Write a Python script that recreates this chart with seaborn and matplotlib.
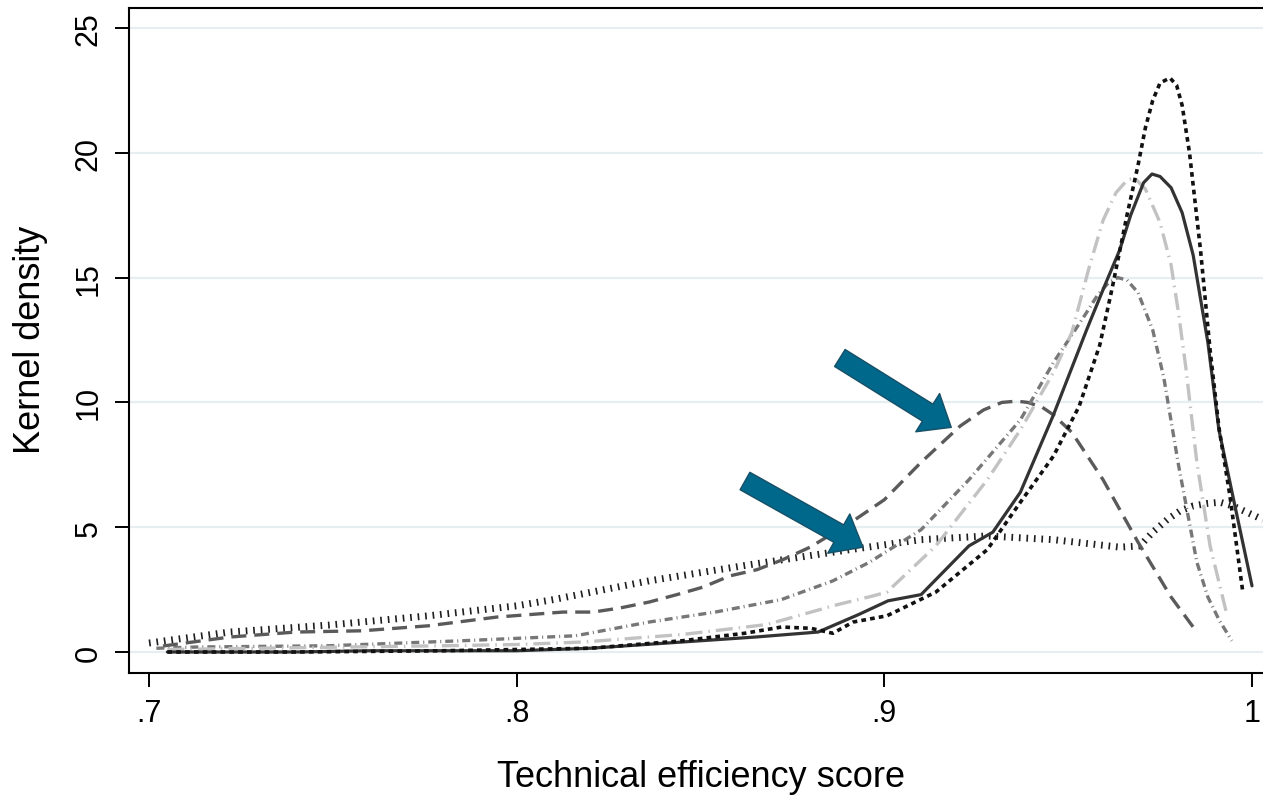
import seaborn as sns
import matplotlib.pyplot as plt

# values (x = efficiency score, y = density)
solid_x = [0.705, 0.72, 0.74, 0.76, 0.78, 0.80, 0.82, 0.845, 0.865, 0.882, 0.893, 0.901,
           0.910, 0.916, 0.923, 0.9295, 0.937, 0.946, 0.955, 0.960, 0.964, 0.967, 0.9705,
           0.9728, 0.975, 0.978, 0.981, 0.984, 0.988, 0.991, 0.995, 1.0]
solid_y = [0.0, 0.0, 0.0, 0.05, 0.05, 0.05, 0.15, 0.4, 0.6, 0.8, 1.5, 2.05,
           2.3, 3.2, 4.25, 4.8, 6.4, 9.5, 12.9, 14.7, 16.1, 17.5, 18.8,
           19.15, 19.05, 18.6, 17.6, 15.9, 12.4, 8.9, 6.1, 2.65]

dot_x = [0.705, 0.74, 0.78, 0.82, 0.845, 0.862, 0.872, 0.880, 0.886, 0.8915, 0.9007,
         0.914, 0.928, 0.937, 0.946, 0.953, 0.9586, 0.962, 0.966, 0.969, 0.971, 0.973,
         0.975, 0.9777, 0.9795, 0.981, 0.983, 0.986, 0.9886, 0.991, 0.994, 0.9975]
dot_y = [0.0, 0.0, 0.05, 0.15, 0.45, 0.75, 1.0, 0.95, 0.75, 1.2, 1.45,
         2.4, 4.1, 6.0, 7.85, 9.85, 12.3, 14.6, 17.5, 19.5, 21.0, 22.1,
         22.8, 23.0, 22.7, 21.9, 20.0, 16.1, 12.1, 9.0, 6.25, 2.4]

light_x = [0.705, 0.73, 0.754, 0.78, 0.80, 0.818, 0.845, 0.868, 0.8825, 0.886, 0.897,
           0.9007, 0.914, 0.928, 0.937, 0.946, 0.951, 0.9555, 0.9595, 0.963, 0.966,
           0.968, 0.971, 0.975, 0.978, 0.980, 0.982, 0.985, 0.9886, 0.993]
light_y = [0.1, 0.15, 0.2, 0.25, 0.3, 0.4, 0.7, 1.1, 1.7, 1.85, 2.25,
           2.4, 4.25, 6.9, 8.9, 11.2, 12.8, 15.3, 17.3, 18.4, 18.9,
           19.0, 18.55, 17.2, 15.5, 13.6, 11.4, 7.6, 4.25, 1.6]

mid_x = [0.702, 0.713, 0.749, 0.785, 0.816, 0.836, 0.854, 0.872, 0.886, 0.896, 0.910,
         0.923, 0.937, 0.946, 0.951, 0.955, 0.958, 0.961, 0.9635, 0.966, 0.969, 0.973,
         0.976, 0.980, 0.985, 0.988, 0.991, 0.9945]
mid_y = [0.15, 0.2, 0.25, 0.45, 0.65, 1.2, 1.6, 2.1, 2.85, 3.6, 4.9,
         6.9, 9.3, 11.6, 12.7, 13.6, 14.3, 14.8, 15.0, 14.9, 14.4, 12.9,
         11.0, 7.5, 3.6, 2.2, 1.3, 0.45]

dash_x = [0.7038, 0.722, 0.740, 0.758, 0.776, 0.7946, 0.8126, 0.8208, 0.828, 0.836,
          0.8436, 0.8507, 0.858, 0.8654, 0.8724, 0.8798, 0.891, 0.900, 0.910, 0.9206,
          0.927, 0.932, 0.936, 0.939, 0.943, 0.946, 0.951, 0.9595, 0.969, 0.978, 0.984]
dash_y = [0.24, 0.6, 0.8, 0.85, 1.05, 1.4, 1.6, 1.6, 1.76, 2.0,
          2.3, 2.6, 3.05, 3.3, 3.7, 4.2, 5.2, 6.1, 7.6, 9.05,
          9.7, 10.0, 10.05, 10.0, 9.8, 9.5, 8.8, 6.9, 4.4, 2.2, 1.0]

tick_x = [0.700, 0.722, 0.749, 0.776, 0.800, 0.810, 0.836, 0.8635, 0.8906, 0.910,
          0.928, 0.946, 0.964, 0.9695, 0.973, 0.9769, 0.9804, 0.984, 0.9877, 0.9913,
          0.9948, 0.9986, 1.003]
tick_y = [0.36, 0.8, 1.08, 1.45, 1.85, 2.1, 2.85, 3.5, 4.1, 4.5,
          4.65, 4.5, 4.2, 4.25, 4.8, 5.3, 5.65, 5.85, 5.95, 6.0,
          5.85, 5.6, 5.3]

# arrows: (tail, tip)
arrows = [((0.8879, 11.78), (0.9182, 9.0)),
          ((0.8621, 6.85), (0.8942, 4.2))]

x_ticks = [0.7, 0.8, 0.9, 1.0]
x_labels = ['.7', '.8', '.9', '1']
y_ticks = [0, 5, 10, 15, 20, 25]

sns.set_style('white', {'text.color': 'black', 'axes.labelcolor': 'black',
                        'xtick.color': 'black', 'ytick.color': 'black'})
plt.rcParams['font.family'] = ['Liberation Sans', 'DejaVu Sans']

fig = plt.figure(figsize=(12.63, 8.03), dpi=100)
ax = fig.add_axes([129 / 1263, 1 - 674 / 803, 1 - 129 / 1263, 665 / 803])

# (x, y, color, linewidth, dashes)
series = [
    (tick_x, tick_y, '#1e1e1e', 5.0, (0.24, 0.84)),
    (dash_x, dash_y, '#5a5a5a', 2.4, (4.5, 2.4)),
    (mid_x, mid_y, '#777777', 2.4, (2.4, 1.2, 0.3, 1.2)),
    (light_x, light_y, '#c2c2c2', 2.4, (5.1, 1.8, 0.45, 1.8)),
    (solid_x, solid_y, '#333333', 2.3, None),
    (dot_x, dot_y, '#111111', 2.6, (1.3, 1.15)),
]
for xs, ys, col, lw, dsh in series:
    sns.lineplot(x=xs, y=ys, ax=ax, color=col, linewidth=lw, errorbar=None, sort=False)
    if dsh is not None:
        ax.lines[-1].set_dashes(dsh)

for tail, tip in arrows:
    ax.annotate('', xy=tip, xytext=tail,
                arrowprops=dict(arrowstyle='simple,head_length=1.0,head_width=1.62,tail_width=0.72',
                                mutation_scale=20, fc='#00688b', ec='#174f66', lw=1,
                                shrinkA=0, shrinkB=0))

ax.set_xlim(0.7 - 20 / 3677, 1.0 + 11 / 3677)
ax.set_ylim(-21 / 24.96, 25 + 20 / 24.96)
ax.set_xticks(x_ticks)
ax.set_xticklabels(x_labels)
ax.set_yticks(y_ticks)
ax.set_yticklabels([str(v) for v in y_ticks], rotation=90, va='center')

ax.yaxis.grid(True, color='#e6eef1', linewidth=1.6)
ax.xaxis.grid(False)
ax.set_axisbelow(True)

for side in ['left', 'bottom', 'top']:
    ax.spines[side].set_color('black')
    ax.spines[side].set_linewidth(1.5)
ax.spines['right'].set_visible(False)

ax.tick_params(axis='both', which='major', length=10, width=1.4, color='black',
               labelcolor='black', labelsize=22, pad=8, left=True, bottom=True)

ax.set_xlabel('Technical efficiency score', fontsize=26, va='center', color='black')
ax.set_ylabel('Kernel density', fontsize=26, va='center', color='black')
ax.xaxis.set_label_coords(0.504, -0.155)
ax.yaxis.set_label_coords(-0.087, 0.502)

fig.savefig('out.png', dpi=100)
